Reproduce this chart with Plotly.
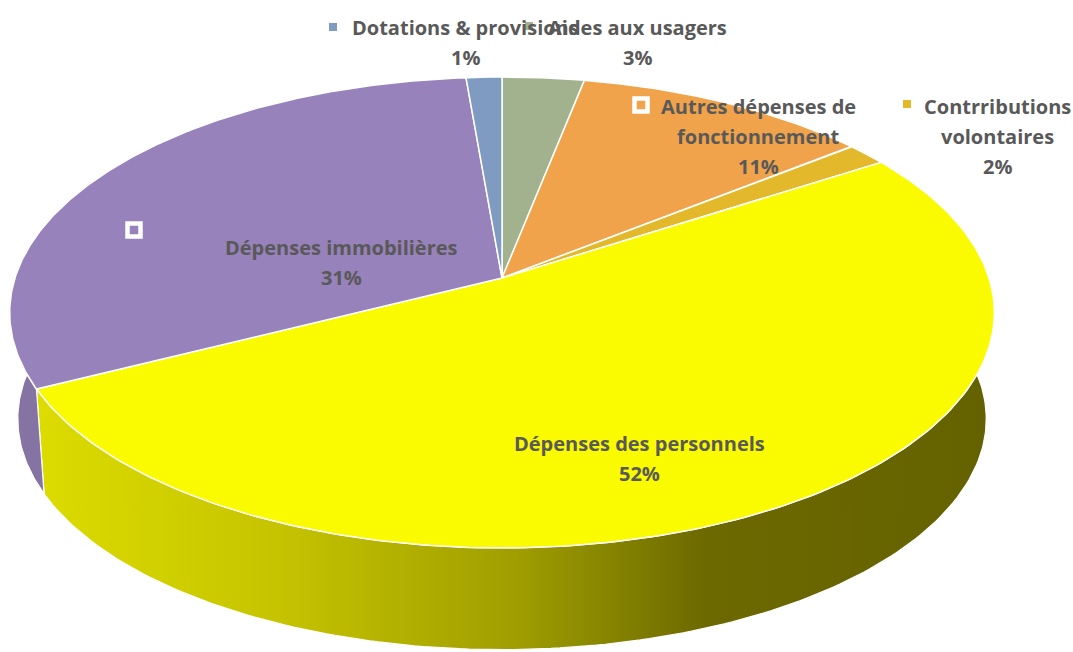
import numpy as np
import plotly.graph_objects as go

# ---------------- data ----------------
categories = ["Aides aux usagers", "Autres dépenses de fonctionnement", "Contrributions volontaires",
              "Dépenses des personnels", "Dépenses immobilières", "Dotations & provisions"]
values = [3.1, 11.2, 1.6, 51.7, 31.1, 1.35]
pct_labels = ["3%", "11%", "2%", "52%", "31%", "1%"]
label_lines = [["Aides aux usagers"],
               ["Autres dépenses de", "fonctionnement"],
               ["Contrributions", "volontaires"],
               ["Dépenses des personnels"],
               ["Dépenses immobilières"],
               ["Dotations & provisions"]]

# ---------------- styles ----------------
top_colors = ["#a2b18e", "#f0a34a", "#e3b92b", "#fafa00", "#9782bb", "#7f9bc1"]
side_colors = ["#8c9a7a", "#cf8a3a", "#c49f22", None, "#8573a3", "#6e86a8"]
yellow_side_scale = [[0.0, "#dcdc00"], [0.25, "#c6c400"], [0.5, "#a09e00"],
                     [0.7, "#6c6900"], [1.0, "#646200"]]
# label anchor (x center, y of first line) in pixels, and legend-key position
label_pos = [(637, 27), (758, 106), (997, 106), (639, 443), (341, 247), (465, 27)]
key_pos = [(529, 26), (641, 105), (907, 104), None, (134, 230), (333, 27)]
key_border = [False, True, False, False, True, False]
LINE_H = 30
FONT = dict(family="Open Sans", size=20, color="#595959")
W, H = 1073, 652

# projection parameters (pixel space)
cx, cy, a, b, k = 502.0, 278.0, 487.0, 230.4, 0.1465
cy2, a2, b2 = 385.0, 479.0, 225.8


def proj(theta, bottom=False):
    u, v = np.sin(theta), np.cos(theta)
    p = 1.0 / (1.0 + k * v)
    if bottom:
        return cx + a2 * u * p, cy2 - b2 * v * p
    return cx + a * u * p, cy - b * v * p


vals = np.array(values, dtype=float)
cum = np.concatenate([[0], np.cumsum(vals)]) / vals.sum() * 2 * np.pi

fig = go.Figure()

# side walls (back parts are hidden by the top faces drawn afterwards)
for i in range(len(vals)):
    t = np.linspace(cum[i], cum[i + 1], 200)
    xt, yt = proj(t)
    xb, yb = proj(t[::-1], bottom=True)
    xs = np.concatenate([xt, xb, xt[:1]])
    ys = np.concatenate([yt, yb, yt[:1]])
    kw = dict(x=xs, y=ys, mode="lines", fill="toself",
              line=dict(color="white", width=1.2), hoverinfo="skip", showlegend=False)
    if side_colors[i] is None:
        kw["fillgradient"] = dict(type="horizontal", colorscale=yellow_side_scale)
    else:
        kw["fillcolor"] = side_colors[i]
    fig.add_trace(go.Scatter(**kw))

# top faces
for i in range(len(vals)):
    t = np.linspace(cum[i], cum[i + 1], 200)
    xt, yt = proj(t)
    xs = np.concatenate([[cx], xt, [cx]])
    ys = np.concatenate([[cy], yt, [cy]])
    fig.add_trace(go.Scatter(x=xs, y=ys, mode="lines", fill="toself", fillcolor=top_colors[i],
                             line=dict(color="white", width=1.5), hoverinfo="skip", showlegend=False))

# legend keys
for i in range(len(vals)):
    if key_pos[i] is None:
        continue
    kx, ky = key_pos[i]
    if key_border[i]:
        mk = dict(symbol="square", size=13, color=top_colors[i], line=dict(color="white", width=4.5))
    else:
        mk = dict(symbol="square", size=8, color=top_colors[i], line=dict(width=0))
    fig.add_trace(go.Scatter(x=[kx], y=[ky], mode="markers", marker=mk,
                             hoverinfo="skip", showlegend=False))

# labels
annotations = []
for i in range(len(vals)):
    lx, ly = label_pos[i]
    lines = label_lines[i] + [pct_labels[i]]
    for j, txt in enumerate(lines):
        annotations.append(dict(x=lx, y=ly + j * LINE_H, xref="x", yref="y", text="<b>" + txt + "</b>",
                                showarrow=False, xanchor="center", yanchor="middle", font=FONT))

fig.update_layout(
    width=W, height=H,
    margin=dict(l=0, r=0, t=0, b=0),
    paper_bgcolor="white", plot_bgcolor="white",
    xaxis=dict(range=[0, W], visible=False, fixedrange=True),
    yaxis=dict(range=[H, 0], visible=False, fixedrange=True),
    annotations=annotations,
    showlegend=False,
)

fig.write_html("out.html", post_script="document.body.style.margin='0px';",
               config={"displayModeBar": False})
